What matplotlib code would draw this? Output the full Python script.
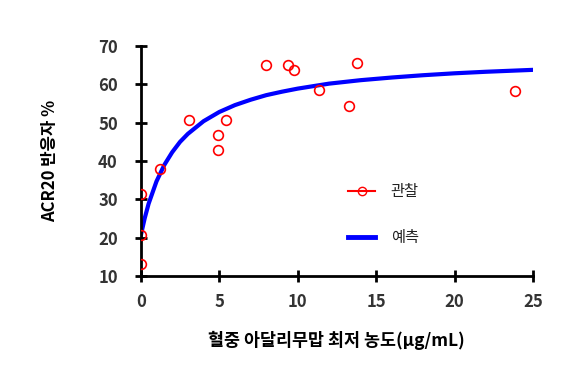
import matplotlib
matplotlib.use("Agg")
import matplotlib.pyplot as plt
from matplotlib.lines import Line2D

plt.rcParams['font.family'] = ['Noto Sans CJK KR', 'DejaVu Sans']

# Observed data
obs_x = [0.0, 0.0, 0.0, 1.24, 3.09, 4.92, 4.92, 5.41, 7.99, 9.36, 9.78, 11.34, 13.28, 13.81, 23.83]
obs_y = [13.2, 20.6, 31.3, 37.9, 50.6, 46.8, 42.9, 50.6, 65.1, 65.1, 63.8, 58.6, 54.4, 65.5, 58.3]

# Predicted curve
pred_x = [0, 0.25, 0.5, 1, 1.5, 2, 2.5, 3, 4, 5, 6, 7, 8, 9, 10, 12, 14, 16, 18, 20, 22, 25]
pred_y = [20.6, 25.1, 28.9, 34.7, 39.0, 42.3, 45.0, 47.1, 50.4, 52.8, 54.6, 56.0, 57.2, 58.1,
          58.9, 60.2, 61.1, 61.8, 62.4, 62.9, 63.3, 63.8]

xticks = [0, 5, 10, 15, 20, 25]
yticks = [10, 20, 30, 40, 50, 60, 70]

fig = plt.figure(figsize=(5.7, 3.84), dpi=100)
ax = fig.add_axes([0.247, 0.281, 0.688, 0.599])

ax.plot(obs_x, obs_y, linestyle='none', marker='o', markersize=7, markerfacecolor='none',
        markeredgecolor='red', markeredgewidth=1.2, color='red', label='관찰', zorder=3)
ax.plot(pred_x, pred_y, color='blue', linewidth=3, label='예측', zorder=2)

ax.set_xlim(0, 25)
ax.set_ylim(10, 70)
ax.set_xticks(xticks)
ax.set_yticks(yticks)
for s in ['top', 'right']:
    ax.spines[s].set_visible(False)
for s in ['left', 'bottom']:
    ax.spines[s].set_linewidth(2)
    ax.spines[s].set_color('black')
ax.tick_params(direction='inout', length=9, width=2, colors='black', labelcolor='#333333',
               labelsize=12)
ax.tick_params(axis='y', pad=12)
ax.tick_params(axis='x', pad=8)
for lab in ax.get_xticklabels() + ax.get_yticklabels():
    lab.set_fontweight('bold')

ax.set_xlabel('혈중 아달리무맙 최저 농도(μg/mL)', fontsize=12.5, fontweight='bold', labelpad=14)
ax.set_ylabel('ACR20 반응자 %', fontsize=12, fontweight='bold', labelpad=28)

h1 = Line2D([], [], color='red', linewidth=1.5, marker='o', markersize=6,
            markerfacecolor='none', markeredgecolor='red')
h2 = Line2D([], [], color='blue', linewidth=3.5)
leg = ax.legend([h1, h2], ['관찰', '예측'], loc='center left', bbox_to_anchor=(0.528, 0.268),
                frameon=False, fontsize=11, handlelength=1.8, labelspacing=1.9,
                handletextpad=1.0, borderpad=0, borderaxespad=0)
for t in leg.get_texts():
    t.set_color('#222222')

fig.savefig('out.png', dpi=100)
